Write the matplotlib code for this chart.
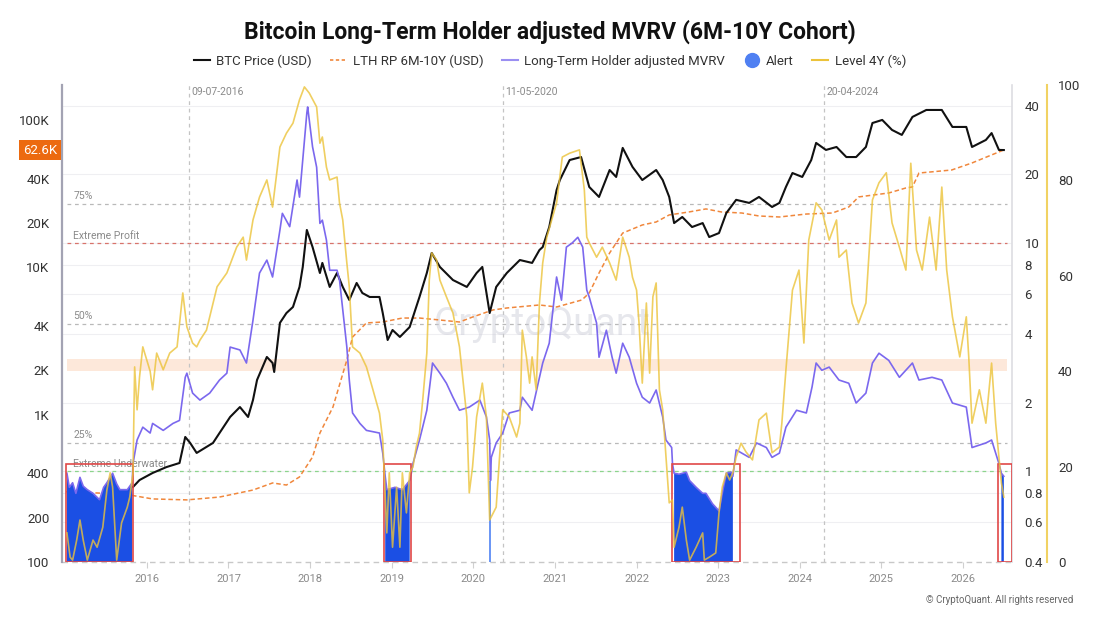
import numpy as np
import matplotlib
matplotlib.use("Agg")
import matplotlib.pyplot as plt
from matplotlib.lines import Line2D
from matplotlib.patches import Rectangle
from matplotlib.transforms import blended_transform_factory

plt.rcParams['font.family'] = ['Roboto', 'DejaVu Sans']

# ---------------- data (decimal years) ----------------
BTC_T = [2015.83, 2015.91, 2016.07, 2016.24, 2016.40, 2016.47, 2016.53, 2016.61, 2016.73, 2016.81,
         2016.89, 2017.02, 2017.14, 2017.24, 2017.30, 2017.35, 2017.47, 2017.54, 2017.56, 2017.63,
         2017.71, 2017.79, 2017.87, 2017.91, 2017.96, 2018.03, 2018.12, 2018.15, 2018.24, 2018.33,
         2018.40, 2018.48, 2018.57, 2018.64, 2018.73, 2018.85, 2018.89, 2018.95, 2019.01, 2019.10,
         2019.22, 2019.34, 2019.43, 2019.49, 2019.59, 2019.75, 2019.92, 2020.04, 2020.11, 2020.20,
         2020.28, 2020.41, 2020.57, 2020.72, 2020.81, 2020.85, 2020.93, 2021.02, 2021.06, 2021.18,
         2021.32, 2021.42, 2021.54, 2021.67, 2021.75, 2021.83, 2021.95, 2022.07, 2022.24, 2022.32,
         2022.40, 2022.46, 2022.56, 2022.68, 2022.81, 2022.89, 2023.01, 2023.10, 2023.22, 2023.38,
         2023.50, 2023.66, 2023.75, 2023.83, 2023.91, 2024.03, 2024.14, 2024.20, 2024.32, 2024.45,
         2024.57, 2024.69, 2024.81, 2024.89, 2025.01, 2025.13, 2025.25, 2025.38, 2025.55, 2025.74,
         2025.87, 2026.04, 2026.11, 2026.28, 2026.35, 2026.44, 2026.50]
BTC_PRICE = [323, 360, 402, 441, 470, 706, 643, 550, 604, 643,
             751, 965, 1127, 965, 1258, 1722, 2465, 2244, 1950, 4198,
             4898, 5385, 7366, 10070, 17950, 13740, 9160, 10720, 7366, 9160,
             7366, 6009, 7838, 6700, 6296, 6296, 4898, 3214, 3757, 3371,
             3936, 6296, 9160, 12530, 10070, 8208, 7366, 9160, 10070, 4898,
             7366, 9160, 11220, 10720, 13120, 13740, 18790, 33470, 39170, 53540,
             56110, 35160, 30070, 45810, 41100, 64710, 48110, 39170, 45810, 39170,
             30070, 19990, 21980, 18790, 19990, 16070, 17100, 23390, 28740, 27390,
             30070, 25700, 27390, 35160, 43700, 41100, 53540, 69960, 62690, 65660,
             56110, 56110, 65660, 95500, 100200, 85700, 79300, 105000, 117100, 117100,
             89800, 89800, 65660, 73300, 81600, 62690, 62600]

RP_T = [2015.01, 2015.40, 2015.79, 2016.07, 2016.49, 2016.89, 2017.30, 2017.54, 2017.71, 2017.87,
        2018.03, 2018.12, 2018.28, 2018.45, 2018.52, 2018.69, 2018.89, 2019.13, 2019.34, 2019.59,
        2019.83, 2019.99, 2020.24, 2020.41, 2020.81, 2021.02, 2021.33, 2021.42, 2021.54, 2021.67,
        2021.83, 2022.07, 2022.24, 2022.40, 2022.64, 2022.85, 2023.04, 2023.29, 2023.50, 2023.75,
        2024.08, 2024.40, 2024.60, 2024.72, 2025.09, 2025.30, 2025.38, 2025.46, 2025.86, 2026.11,
        2026.35, 2026.50]
RP_PRICE = [300, 294, 285, 268, 264, 276, 308, 344, 333, 378,
            516, 751, 1127, 2350, 3366, 4198, 4257, 4530, 4530, 4393,
            4257, 4600, 5140, 5300, 5556, 5385, 6009, 6700, 9160, 12530,
            17100, 19400, 20330, 22700, 23770, 24930, 23770, 23390, 22330, 21980,
            23020, 23390, 25700, 30070, 31990, 34600, 35160, 43700, 45810, 51150,
            57980, 62690]

MVRV_T = [2015.02, 2015.05, 2015.09, 2015.13, 2015.18, 2015.22, 2015.27, 2015.34, 2015.42, 2015.47,
          2015.51, 2015.58, 2015.63, 2015.67, 2015.76, 2015.82, 2015.83, 2015.88, 2015.95, 2016.04,
          2016.07, 2016.20, 2016.32, 2016.40, 2016.47, 2016.49, 2016.56, 2016.65, 2016.77, 2016.89,
          2016.98, 2017.02, 2017.14, 2017.22, 2017.30, 2017.38, 2017.47, 2017.54, 2017.63, 2017.66,
          2017.75, 2017.84, 2017.87, 2017.96, 2017.97, 2018.03, 2018.08, 2018.12, 2018.15, 2018.20,
          2018.24, 2018.33, 2018.36, 2018.45, 2018.48, 2018.52, 2018.61, 2018.69, 2018.85, 2018.89,
          2018.92, 2018.94, 2019.04, 2019.13, 2019.22, 2019.24, 2019.26, 2019.34, 2019.43, 2019.50,
          2019.59, 2019.67, 2019.75, 2019.83, 2019.95, 2020.08, 2020.16, 2020.20, 2020.21, 2020.22,
          2020.28, 2020.36, 2020.44, 2020.57, 2020.60, 2020.72, 2020.85, 2020.93, 2021.02, 2021.08,
          2021.14, 2021.21, 2021.28, 2021.34, 2021.39, 2021.42, 2021.51, 2021.54, 2021.63, 2021.70,
          2021.75, 2021.83, 2021.91, 2022.00, 2022.07, 2022.16, 2022.24, 2022.32, 2022.36, 2022.43,
          2022.44, 2022.46, 2022.52, 2022.61, 2022.65, 2022.73, 2022.81, 2022.85, 2022.93, 2023.01,
          2023.05, 2023.10, 2023.16, 2023.18, 2023.22, 2023.29, 2023.38, 2023.47, 2023.59, 2023.66,
          2023.75, 2023.83, 2023.96, 2024.08, 2024.15, 2024.20, 2024.27, 2024.36, 2024.48, 2024.60,
          2024.69, 2024.81, 2024.89, 2024.97, 2025.09, 2025.22, 2025.38, 2025.46, 2025.62, 2025.74,
          2025.87, 2026.04, 2026.11, 2026.28, 2026.35, 2026.44, 2026.47, 2026.50]
MVRV = [0.98, 0.85, 0.89, 0.80, 0.94, 0.86, 0.83, 0.80, 0.75, 0.85,
        0.89, 0.98, 0.88, 0.83, 0.83, 0.89, 1.08, 1.37, 1.56, 1.47,
        1.62, 1.51, 1.62, 1.67, 2.58, 2.69, 2.20, 2.05, 2.20, 2.51,
        2.69, 3.50, 3.40, 2.98, 4.59, 7.39, 8.42, 7.10, 11.4, 13.5,
        11.8, 18.9, 15.9, 37.2, 39.5, 26.4, 21.5, 12.2, 12.6, 10.3,
        7.6, 7.6, 6.9, 3.50, 2.51, 1.80, 1.62, 1.51, 1.47, 1.20,
        0.95, 0.83, 0.85, 0.83, 0.91, 0.98, 1.08, 1.37, 1.85, 2.98,
        2.69, 2.43, 2.11, 1.85, 1.91, 2.05, 1.73, 1.37, 0.91, 1.15,
        1.33, 1.47, 1.80, 1.85, 2.11, 1.85, 2.98, 3.64, 7.10, 5.62,
        9.60, 10.0, 10.6, 9.60, 6.22, 5.80, 4.46, 3.16, 4.15, 3.16,
        2.69, 3.64, 3.16, 2.43, 2.11, 1.99, 2.27, 1.73, 1.37, 1.27,
        1.08, 0.98, 0.97, 0.99, 0.91, 0.85, 0.80, 0.80, 0.72, 0.67,
        0.80, 0.98, 0.99, 0.95, 1.24, 1.20, 1.15, 1.33, 1.27, 1.15,
        1.20, 1.56, 1.85, 1.80, 2.34, 2.98, 2.77, 2.86, 2.51, 2.43,
        1.99, 2.20, 2.98, 3.29, 3.06, 2.58, 2.98, 2.51, 2.58, 2.51,
        1.99, 1.91, 1.27, 1.33, 1.37, 1.08, 0.98, 0.95]

LEVEL_T = [2015.02, 2015.06, 2015.09, 2015.14, 2015.18, 2015.22, 2015.27, 2015.34, 2015.39, 2015.46,
           2015.51, 2015.55, 2015.58, 2015.63, 2015.69, 2015.76, 2015.79, 2015.83, 2015.85, 2015.88,
           2015.91, 2015.95, 2016.04, 2016.07, 2016.12, 2016.20, 2016.28, 2016.37, 2016.44, 2016.49,
           2016.56, 2016.61, 2016.65, 2016.73, 2016.86, 2016.98, 2017.10, 2017.18, 2017.22, 2017.30,
           2017.38, 2017.47, 2017.54, 2017.63, 2017.71, 2017.79, 2017.87, 2017.93, 2017.99, 2018.08,
           2018.12, 2018.15, 2018.20, 2018.24, 2018.33, 2018.36, 2018.40, 2018.45, 2018.48, 2018.52,
           2018.61, 2018.69, 2018.77, 2018.85, 2018.89, 2018.94, 2018.97, 2019.01, 2019.06, 2019.10,
           2019.13, 2019.18, 2019.22, 2019.26, 2019.30, 2019.34, 2019.38, 2019.43, 2019.46, 2019.49,
           2019.55, 2019.59, 2019.67, 2019.75, 2019.83, 2019.92, 2019.95, 2019.99, 2020.04, 2020.11,
           2020.16, 2020.20, 2020.28, 2020.36, 2020.44, 2020.53, 2020.57, 2020.60, 2020.65, 2020.69,
           2020.72, 2020.77, 2020.81, 2020.85, 2020.90, 2020.97, 2021.02, 2021.06, 2021.09, 2021.18,
           2021.30, 2021.36, 2021.39, 2021.42, 2021.51, 2021.58, 2021.67, 2021.75, 2021.83, 2021.91,
           2021.95, 2022.00, 2022.03, 2022.07, 2022.12, 2022.16, 2022.20, 2022.24, 2022.28, 2022.32,
           2022.36, 2022.40, 2022.44, 2022.46, 2022.52, 2022.56, 2022.61, 2022.65, 2022.73, 2022.81,
           2022.83, 2022.89, 2022.97, 2023.01, 2023.05, 2023.10, 2023.14, 2023.18, 2023.22, 2023.28,
           2023.34, 2023.42, 2023.50, 2023.59, 2023.66, 2023.75, 2023.78, 2023.83, 2023.91, 2023.99,
           2024.05, 2024.11, 2024.20, 2024.27, 2024.36, 2024.45, 2024.48, 2024.57, 2024.64, 2024.72,
           2024.81, 2024.89, 2024.97, 2025.06, 2025.13, 2025.22, 2025.30, 2025.36, 2025.43, 2025.50,
           2025.59, 2025.67, 2025.74, 2025.80, 2025.87, 2025.96, 2026.04, 2026.07, 2026.11, 2026.20,
           2026.28, 2026.35, 2026.40, 2026.47, 2026.50]
LEVEL = [6.1, 1.0, 0.4, 4.6, 8.8, 4.6, 0.4, 4.6, 3.1, 7.3,
         15.1, 18.7, 15.7, 0.4, 8.2, 11.5, 13.6, 18.7, 40.9, 31.9,
         38.8, 45.1, 40.0, 36.1, 43.8, 40.3, 43.8, 45.1, 56.4, 49.3,
         45.9, 45.1, 46.5, 48.6, 57.7, 60.6, 66.0, 68.1, 63.3, 71.7,
         76.5, 80.1, 74.4, 87.0, 89.9, 92.0, 96.9, 99.6, 98.3, 95.4,
         87.8, 89.1, 82.8, 80.1, 80.7, 75.3, 71.7, 62.7, 57.7, 45.1,
         43.8, 40.9, 36.1, 31.2, 25.6, 6.1, 18.7, 3.1, 15.7, 3.1,
         18.7, 10.3, 18.7, 19.9, 24.1, 27.0, 34.0, 43.8, 59.1, 64.8,
         63.3, 59.1, 55.6, 52.2, 45.1, 30.4, 14.5, 19.9, 30.4, 37.5,
         30.4, 8.8, 11.5, 31.9, 30.4, 26.2, 29.1, 48.6, 43.0, 37.5,
         43.0, 36.1, 54.3, 62.7, 68.1, 72.3, 75.3, 80.7, 84.9, 85.7,
         86.4, 78.0, 68.1, 66.9, 63.9, 66.0, 62.7, 59.1, 68.1, 63.9,
         59.7, 57.0, 50.1, 37.5, 54.3, 39.6, 55.6, 58.5, 36.1, 31.9,
         22.0, 12.4, 13.0, 3.1, 7.3, 11.5, 4.6, 0.4, 3.1, 6.1,
         0.4, 1.0, 1.9, 10.3, 15.7, 18.7, 17.2, 18.7, 22.0, 24.9,
         23.1, 21.4, 29.8, 31.2, 22.9, 24.1, 29.1, 40.3, 57.0, 61.2,
         45.9, 67.5, 75.3, 73.8, 67.5, 71.7, 63.9, 65.4, 54.3, 50.1,
         54.3, 75.9, 79.5, 81.6, 71.1, 66.0, 61.2, 83.6, 65.4, 61.2,
         72.3, 61.2, 78.6, 61.2, 51.4, 43.0, 51.4, 43.0, 29.1, 36.1,
         29.1, 41.7, 29.1, 16.6, 13.6]

ALERT_START = [2015.01, 2018.915, 2022.45, 2026.465]
ALERT_END = [2015.825, 2019.235, 2023.185, 2026.50]
ALERT_SPIKE_T = [2020.21]
ALERT_SPIKE_V = [0.91]
BOX_START = [2015.01, 2018.90, 2022.44, 2026.43]
BOX_END = [2015.83, 2019.24, 2023.27, 2026.60]
BOX_TOP = 1.08

HALVINGS = [2016.52, 2020.36, 2024.30]
HALVING_LABELS = ["09-07-2016", "11-05-2020", "20-04-2024"]
YEARS = list(range(2016, 2027))
PRICE_TICKS = [100, 200, 400, 1000, 2000, 4000, 10000, 20000, 40000, 100000]
PRICE_LABELS = ["100", "200", "400", "1K", "2K", "4K", "10K", "20K", "40K", "100K"]
MVRV_TICKS = [0.4, 0.6, 0.8, 1, 2, 4, 6, 8, 10, 20, 40]
MVRV_LABELS = ["0.4", "0.6", "0.8", "1", "2", "4", "6", "8", "10", "20", "40"]
LEVEL_TICKS = [0, 20, 40, 60, 80, 100]
PCT_LEVELS = [25, 50, 75]
BAND = (40.0, 42.6)
LAST_PRICE_LABEL = "62.6K"
LAST_PRICE = 62600

# ---------------- colors ----------------
C_BTC = "#111111"
C_RP = "#f0873c"
C_MVRV = "#7b68ee"
C_ALERT = "#1b4fe4"
C_LEVEL = "#ecc33a"

W, H = 1100, 619
fig = plt.figure(figsize=(W / 100, H / 100), dpi=100)
L, R, B, T = 62 / W, 1012 / W, (H - 562) / H, (H - 85) / H

ax = fig.add_axes([L, B, R - L, T - B])
ax_m = ax.twinx()
ax_l = ax.twinx()
ax_l.spines['right'].set_position(('axes', (1047 - 62) / (1012 - 62)))

ax.set_yscale('log')
ax.set_ylim(100, 173000)
ax_m.set_yscale('log')
ax_m.set_ylim(0.4, 49.3)
ax_l.set_ylim(0, 100)
for a in (ax, ax_m, ax_l):
    a.set_xlim(2014.96, 2026.60)
    a.patch.set_visible(False)
    for s in a.spines.values():
        s.set_visible(False)

# background elements on the bottom axes
tm = blended_transform_factory(ax.transAxes, ax_m.transData)
tl = blended_transform_factory(ax.transAxes, ax_l.transData)
for v in MVRV_TICKS[1:]:
    ax.plot([0, 1], [v, v], transform=tm, color="#efeff2", lw=0.8, zorder=0)
ax.add_patch(Rectangle((0.005, BAND[0]), 0.99, BAND[1] - BAND[0], transform=tl,
                       facecolor="#fde8da", edgecolor="none", zorder=0.5))
for p in PCT_LEVELS:
    ax.plot([0.005, 0.995], [p, p], transform=tl, color="#b9b9b9", lw=0.9,
            ls=(0, (3, 3)), zorder=1)
    ax.text(0.012, p + 0.6, f"{p}%", transform=tl, fontsize=7.5, color="#8a8a8a",
            va='bottom', ha='left')
ax.plot([0.005, 0.995], [10, 10], transform=tm, color="#d8736b", lw=0.9, ls=(0, (3, 3)), zorder=1)
ax.text(0.012, 10 * 1.025, "Extreme Profit", transform=tm, fontsize=7.5, color="#8a8a8a",
        va='bottom', ha='left')
ax.plot([0.005, 0.995], [1, 1], transform=tm, color="#8cd48c", lw=0.9, ls=(0, (3, 3)), zorder=1)
ax.text(0.012, 1.02, "Extreme Underwater", transform=tm, fontsize=7.5, color="#8a8a8a",
        va='bottom', ha='left')

for d, lab in zip(HALVINGS, HALVING_LABELS):
    ax.axvline(d, color="#c4c4c4", lw=0.9, ls=(0, (3, 3)), zorder=1)
    ax.text(d + 0.03, 0.995, lab, transform=blended_transform_factory(ax.transData, ax.transAxes),
            fontsize=7.5, color="#8a8a8a", va='top', ha='left')

ax.text(0.505, 0.497, "CryptoQuant", transform=ax.transAxes, fontsize=28, color="#c9cad6",
        alpha=0.45, ha='center', va='center', zorder=1)

# bottom dashed baseline
ax.plot([0, 1], [0, 0], transform=ax.transAxes, color="#c8c8c8", lw=1.0, ls=(0, (4, 3)),
        clip_on=False, zorder=2)

ax.plot(RP_T, RP_PRICE, color=C_RP, lw=1.1, ls=(0, (3, 1.8)), zorder=3)
ax.plot(BTC_T, BTC_PRICE, color=C_BTC, lw=1.5, zorder=4)

# MVRV axes: alert + boxes + line
mt = np.array(MVRV_T)
mv = np.array(MVRV)
mask = np.zeros_like(mt, dtype=bool)
for s, e in zip(ALERT_START, ALERT_END):
    mask |= (mt >= s) & (mt <= e)
ax_m.fill_between(mt, 0.4, mv, where=mask, color=C_ALERT, lw=0, zorder=2)
ax_m.vlines(ALERT_SPIKE_T, 0.4, ALERT_SPIKE_V, color="#5d8cf4", lw=1.3, zorder=2)
ax_m.plot(mt, mv, color=C_MVRV, lw=1.2, zorder=3)
for s, e in zip(BOX_START, BOX_END):
    ax_m.add_patch(Rectangle((s, 0.4), e - s, BOX_TOP - 0.4, fill=False,
                             edgecolor="#e04848", lw=1.2, zorder=4))

# level line on top
ax_l.plot(LEVEL_T, LEVEL, color=C_LEVEL, lw=1.2, alpha=0.8, zorder=5)

# ---------------- axes styling ----------------
ax.spines['left'].set_visible(True)
ax.spines['left'].set_color("#a3a3b3")
ax.spines['left'].set_linewidth(1.6)
ax.set_yticks(PRICE_TICKS)
ax.set_yticklabels(PRICE_LABELS)
ax.yaxis.set_minor_locator(matplotlib.ticker.NullLocator())
ax.tick_params(axis='y', length=0, pad=9, labelsize=9.5, labelcolor="#333333")
ax.set_xticks(YEARS)
ax.set_xticklabels([str(y) for y in YEARS])
ax.tick_params(axis='x', length=4, color="#d0d0d0", pad=5, labelsize=8, labelcolor="#8a8a8a")

ax_m.spines['right'].set_visible(True)
ax_m.spines['right'].set_color("#dddde2")
ax_m.spines['right'].set_linewidth(1.2)
ax_m.set_yticks(MVRV_TICKS)
ax_m.set_yticklabels(MVRV_LABELS)
ax_m.yaxis.set_minor_locator(matplotlib.ticker.NullLocator())
ax_m.tick_params(axis='y', length=0, pad=9, labelsize=9.5, labelcolor="#333333")
ax_m.tick_params(axis='x', bottom=False, labelbottom=False)

ax_l.spines['right'].set_visible(True)
ax_l.spines['right'].set_color("#f1d263")
ax_l.spines['right'].set_linewidth(1.5)
ax_l.set_yticks(LEVEL_TICKS)
ax_l.tick_params(axis='y', length=0, pad=8, labelsize=9.5, labelcolor="#333333")
ax_l.tick_params(axis='x', bottom=False, labelbottom=False)

# last price tag
ax.text(-0.005, LAST_PRICE, LAST_PRICE_LABEL, transform=blended_transform_factory(ax.transAxes, ax.transData),
        ha='right', va='center', fontsize=9.5, color="white",
        bbox=dict(boxstyle="square,pad=0.3", facecolor="#ec6a10", edgecolor="none"))

# title & legend
fig.text(0.5, 1 - 32 / H, "Bitcoin Long-Term Holder adjusted MVRV (6M-10Y Cohort)",
         ha='center', va='center', fontsize=16.5, fontweight='bold', color="#111111")
handles = [Line2D([], [], color=C_BTC, lw=1.5),
           Line2D([], [], color=C_RP, lw=1.2, ls=(0, (2, 1.5))),
           Line2D([], [], color="#9b8ff2", lw=1.5),
           Line2D([], [], color="#4f80f2", marker='o', markersize=10, lw=0),
           Line2D([], [], color=C_LEVEL, lw=1.5)]
labels = ["BTC Price (USD)", "LTH RP 6M-10Y (USD)", "Long-Term Holder adjusted MVRV", "Alert", "Level 4Y (%)"]
leg = fig.legend(handles, labels, loc='center', bbox_to_anchor=(0.5, 1 - 61 / H), ncol=5,
                 frameon=False, fontsize=9.5, handlelength=1.2, handletextpad=0.5,
                 columnspacing=1.4)
for t in leg.get_texts():
    t.set_color("#333333")

fig.text(1073 / W, 1 - 600 / H, "© CryptoQuant. All rights reserved", ha='right', va='center',
         fontsize=7, color="#666666")

fig.savefig("out.png", dpi=100)
